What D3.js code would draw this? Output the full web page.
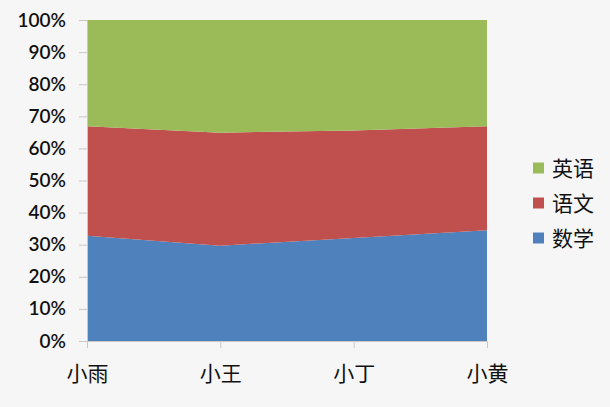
<!DOCTYPE html>
<html>
<head>
<meta charset="utf-8">
<script src="https://cdn.jsdelivr.net/npm/d3@7"></script>
<style>
  body { margin: 0; background: #f6f6f6; }
  svg { display: block; }
</style>
</head>
<body>
<div id="chart"></div>
<script>
// data (percent of each student's total)
var students = ["小雨", "小王", "小丁", "小黄"];
var subjects = ["数学", "语文", "英语"];
var math    = [32.8, 29.7, 32.1, 34.5];
var chinese = [34.1, 35.2, 33.5, 32.4];
var english = [33.1, 35.1, 34.4, 33.1];
var yTicks = [0, 0.1, 0.2, 0.3, 0.4, 0.5, 0.6, 0.7, 0.8, 0.9, 1];
var colors = ["#4f81bd", "#c0504d", "#9bbb59"];

var W = 610, H = 407;
var margin = { top: 20, right: 123, bottom: 66, left: 87 },
    width = W - margin.left - margin.right,
    height = H - margin.top - margin.bottom;

var svg = d3.select("#chart")
    .append("svg")
    .attr("width", W)
    .attr("height", H);

var g = svg.append("g")
    .attr("transform", "translate(" + margin.left + "," + margin.top + ")");

var table = students.map(function (s, i) {
    return { name: s, "数学": math[i], "语文": chinese[i], "英语": english[i] };
});

var stack = d3.stack().keys(subjects).offset(d3.stackOffsetExpand);
var layers = stack(table);

var x = d3.scalePoint().domain(students).range([0, width]);
var y = d3.scaleLinear().domain([0, 1]).range([height, 0]);

var area = d3.area()
    .x(function (d) { return x(d.data.name); })
    .y0(function (d) { return y(d[0]); })
    .y1(function (d) { return y(d[1]); });

g.selectAll(".layer")
    .data(layers)
    .enter()
    .append("path")
    .attr("class", "layer")
    .attr("d", area)
    .attr("fill", function (d, i) { return colors[i]; });

// y axis
var yAxis = g.append("g")
    .call(d3.axisLeft(y).tickValues(yTicks).tickFormat(d3.format(".0%")).tickSize(8).tickPadding(13));
yAxis.select(".domain").attr("stroke", "#c8c8c8");
yAxis.selectAll(".tick line").attr("stroke", "#c8c8c8");
yAxis.selectAll("text")
    .attr("font-family", "Lato, 'Noto Sans', sans-serif")
    .attr("font-weight", "600")
    .attr("font-size", "19px")
    .attr("fill", "#111");

// x axis
var xAxis = g.append("g")
    .attr("transform", "translate(0," + height + ")")
    .call(d3.axisBottom(x).tickSize(7).tickPadding(18));
xAxis.select(".domain").attr("stroke", "#c8c8c8");
xAxis.selectAll(".tick line").attr("stroke", "#c8c8c8");
xAxis.selectAll("text")
    .attr("font-family", "'Noto Sans CJK SC', sans-serif")
    .attr("font-size", "21px")
    .attr("fill", "#111");

// legend, top to bottom: 英语, 语文, 数学
var legendItems = subjects.slice().reverse();
var legend = svg.append("g")
    .attr("transform", "translate(533,168)");

var li = legend.selectAll(".item")
    .data(legendItems)
    .enter()
    .append("g")
    .attr("class", "item")
    .attr("transform", function (d, i) { return "translate(0," + (i * 35) + ")"; });

li.append("rect")
    .attr("x", 0)
    .attr("y", -5.5)
    .attr("width", 11)
    .attr("height", 11)
    .attr("fill", function (d) { return colors[subjects.indexOf(d)]; });

li.append("text")
    .attr("x", 19)
    .attr("y", 0)
    .attr("dy", "0.36em")
    .attr("font-family", "'Noto Sans CJK SC', sans-serif")
    .attr("font-size", "21px")
    .attr("fill", "#111")
    .text(function (d) { return d; });
</script>
</body>
</html>
